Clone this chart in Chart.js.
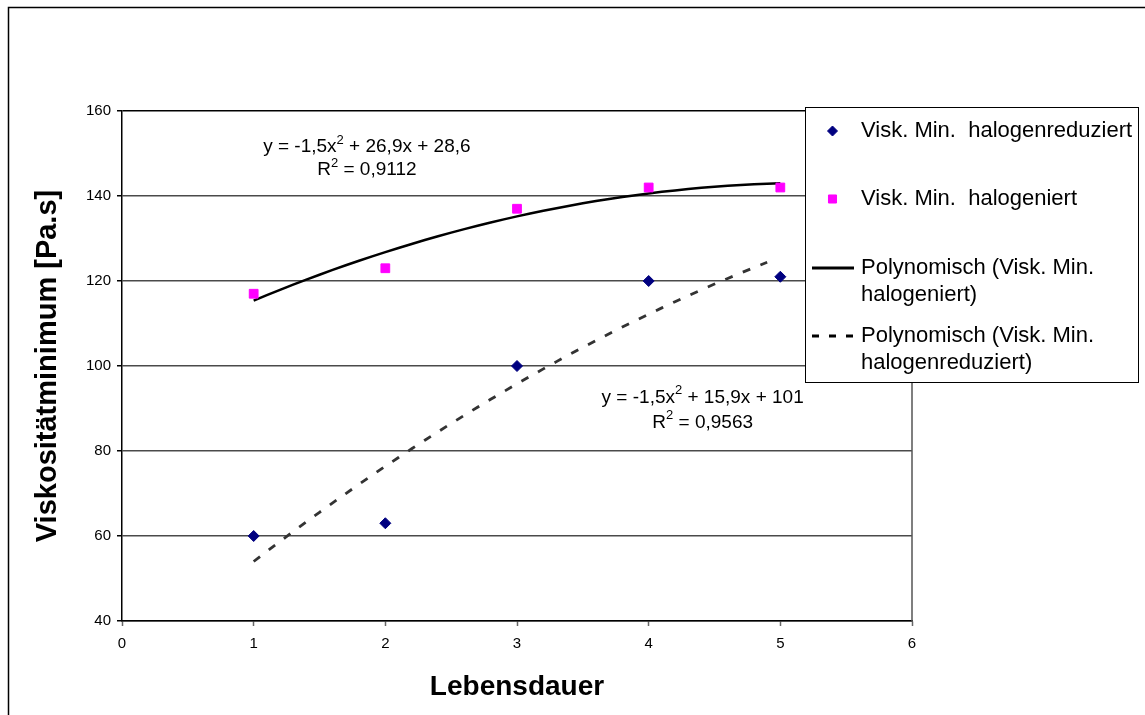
<!DOCTYPE html>
<html>
<head>
<meta charset="utf-8">
<script src="https://cdn.jsdelivr.net/npm/chart.js@4"></script>
<style>
  body { margin: 0; background: #fff; }
  canvas { display: block; }
</style>
</head>
<body>
<canvas id="chart" width="1145" height="715"></canvas>
<script>
const lebensdauer = [1, 2, 3, 4, 5]
const halogenreduziert = [60, 63, 100, 120, 121]
const halogeniert = [117, 123, 137, 142, 142]

// polynomial trendlines, coefficients a, b, c of y = ax^2 + bx + c
const fitHalogeniert = [-1.5, 15.9, 101]
const fitHalogenreduziert = [-1.5, 26.9, 28.6]
const r2Halogeniert = 0.9563
const r2Halogenreduziert = 0.9112

const xRange = [0, 6]
const yRange = [40, 160]

const legendLabels = [
  ["Visk. Min.  halogenreduziert"],
  ["Visk. Min.  halogeniert"],
  ["Polynomisch (Visk. Min.", "halogeniert)"],
  ["Polynomisch (Visk. Min.", "halogenreduziert)"]
]

const FONT = "'Liberation Sans', Arial, sans-serif"

const points = (xs, ys) => xs.map((x, i) => ({ x: x, y: ys[i] }))

const trend = (coef, from, to) => {
  const out = []
  for (let x = from; x <= to + 1e-9; x += 0.1) {
    out.push({ x: x, y: coef[0] * x * x + coef[1] * x + coef[2] })
  }
  return out
}

const fmt = (v) => String(v).replace(".", ",")

const equationParts = (coef) => [
  ["y = " + fmt(coef[0]) + "x", false], ["2", true],
  [" + " + fmt(coef[1]) + "x + " + fmt(coef[2]), false]
]
const r2Parts = (r2) => [["R", false], ["2", true], [" = " + fmt(r2), false]]

function drawParts(ctx, parts, cx, cy) {
  const big = "19px " + FONT
  const small = "13px " + FONT
  let w = 0
  parts.forEach(([t, sup]) => {
    ctx.font = sup ? small : big
    w += ctx.measureText(t).width
  })
  let x = cx - w / 2
  ctx.textBaseline = "middle"
  ctx.textAlign = "left"
  ctx.fillStyle = "#000"
  parts.forEach(([t, sup]) => {
    ctx.font = sup ? small : big
    ctx.fillText(t, x, sup ? cy - 7 : cy)
    x += ctx.measureText(t).width
  })
}

const frame = {
  id: "frame",
  beforeDraw(chart) {
    const ctx = chart.ctx
    ctx.save()
    ctx.fillStyle = "#fff"
    ctx.fillRect(0, 0, chart.width, chart.height)
    ctx.strokeStyle = "#000"
    ctx.lineWidth = 1.5
    ctx.strokeRect(8.5, 7.5, chart.width, chart.height)
    ctx.restore()
  }
}

const extras = {
  id: "extras",
  afterDraw(chart) {
    const ctx = chart.ctx
    const xs = chart.scales.x
    const ys = chart.scales.y
    ctx.save()

    // right edge of the plot area
    ctx.strokeStyle = "#555"
    ctx.lineWidth = 1.5
    ctx.beginPath()
    ctx.moveTo(chart.chartArea.right, chart.chartArea.top)
    ctx.lineTo(chart.chartArea.right, chart.chartArea.bottom)
    ctx.stroke()

    // trendline equations
    const ex1 = xs.getPixelForValue(1.86), ey1 = ys.getPixelForValue(151.5)
    drawParts(ctx, equationParts(fitHalogenreduziert), ex1, ey1)
    drawParts(ctx, r2Parts(r2Halogenreduziert), ex1, ey1 + 23)
    const ex2 = xs.getPixelForValue(4.41), ey2 = ys.getPixelForValue(92.5)
    drawParts(ctx, equationParts(fitHalogeniert), ex2, ey2)
    drawParts(ctx, r2Parts(r2Halogeniert), ex2, ey2 + 25)

    // legend
    const box = { x: 805.5, y: 107.5, w: 333, h: 275 }
    ctx.fillStyle = "#fff"
    ctx.fillRect(box.x, box.y, box.w, box.h)
    ctx.strokeStyle = "#000"
    ctx.lineWidth = 1
    ctx.strokeRect(box.x, box.y, box.w, box.h)

    const rows = [131, 199, 268, 336]
    ctx.font = "22px " + FONT
    ctx.textBaseline = "middle"
    ctx.textAlign = "left"
    chart.data.datasets.forEach((ds, i) => {
      const cy = rows[i]
      if (ds.showLine === false) {
        ctx.fillStyle = ds.backgroundColor
        ctx.strokeStyle = ds.borderColor
        Chart.helpers.drawPoint(ctx, {
          pointStyle: ds.pointStyle, radius: ds.pointRadius - 0.5, rotation: 0, borderWidth: 1
        }, 832.5, cy)
      } else {
        ctx.strokeStyle = "#000"
        ctx.lineWidth = 3
        ctx.setLineDash(ds.borderDash ? [7, 10] : [])
        ctx.beginPath()
        ctx.moveTo(812, cy)
        ctx.lineTo(854, cy)
        ctx.stroke()
        ctx.setLineDash([])
      }
      ctx.fillStyle = "#000"
      legendLabels[i].forEach((line, k) => ctx.fillText(line, 861, cy + k * 27))
    })
    ctx.restore()
  }
}

new Chart(document.getElementById("chart"), {
  type: "scatter",
  data: {
    datasets: [
      {
        label: legendLabels[0].join(" "),
        data: points(lebensdauer, halogenreduziert),
        pointStyle: "rectRot",
        pointRadius: 5.5,
        backgroundColor: "#000080",
        borderColor: "#000080",
        showLine: false
      },
      {
        label: legendLabels[1].join(" "),
        data: points(lebensdauer, halogeniert),
        pointStyle: "rect",
        pointRadius: 6.2,
        backgroundColor: "#ff00ff",
        borderColor: "#ff00ff",
        showLine: false
      },
      {
        label: legendLabels[2].join(" "),
        data: trend(fitHalogeniert, 1, 5),
        showLine: true,
        borderColor: "#000",
        borderWidth: 2.5,
        pointRadius: 0,
        fill: false
      },
      {
        label: legendLabels[3].join(" "),
        data: trend(fitHalogenreduziert, 1, 4.95),
        showLine: true,
        borderColor: "#333",
        borderWidth: 2.8,
        borderDash: [8, 11],
        pointRadius: 0,
        fill: false
      }
    ]
  },
  options: {
    responsive: false,
    animation: false,
    layout: { padding: { left: 0, top: 111, right: 233, bottom: 0 } },
    plugins: {
      legend: { display: false },
      tooltip: { enabled: false }
    },
    scales: {
      x: {
        type: "linear",
        min: xRange[0],
        max: xRange[1],
        afterFit: (scale) => { scale.height = 94 },
        ticks: {
          stepSize: 1,
          padding: 9,
          color: "#000",
          font: { family: FONT, size: 15 }
        },
        grid: {
          drawOnChartArea: false,
          tickLength: 5,
          tickColor: "#666",
          tickWidth: 1.5
        },
        border: { color: "#000", width: 1.5 },
        title: {
          display: true,
          text: "Lebensdauer",
          color: "#000",
          font: { family: FONT, size: 28, weight: "bold", lineHeight: 1.2 },
          padding: { top: 0, bottom: 11 }
        }
      },
      y: {
        min: yRange[0],
        max: yRange[1],
        afterFit: (scale) => { scale.width = 122 },
        ticks: {
          stepSize: 20,
          padding: 6,
          color: "#000",
          font: { family: FONT, size: 15 }
        },
        grid: {
          color: (c) => c.tick.value === yRange[1] ? "#000" : "#4a4a4a",
          lineWidth: 1.5,
          tickLength: 5,
          tickColor: "#000"
        },
        border: { color: "#000", width: 1.5 },
        title: {
          display: true,
          text: "Viskositätminimum [Pa.s]",
          color: "#000",
          font: { family: FONT, size: 29, weight: "bold", lineHeight: 1.2 },
          padding: { top: 31, bottom: 0 }
        }
      }
    }
  },
  plugins: [frame, extras]
})
</script>
</body>
</html>
